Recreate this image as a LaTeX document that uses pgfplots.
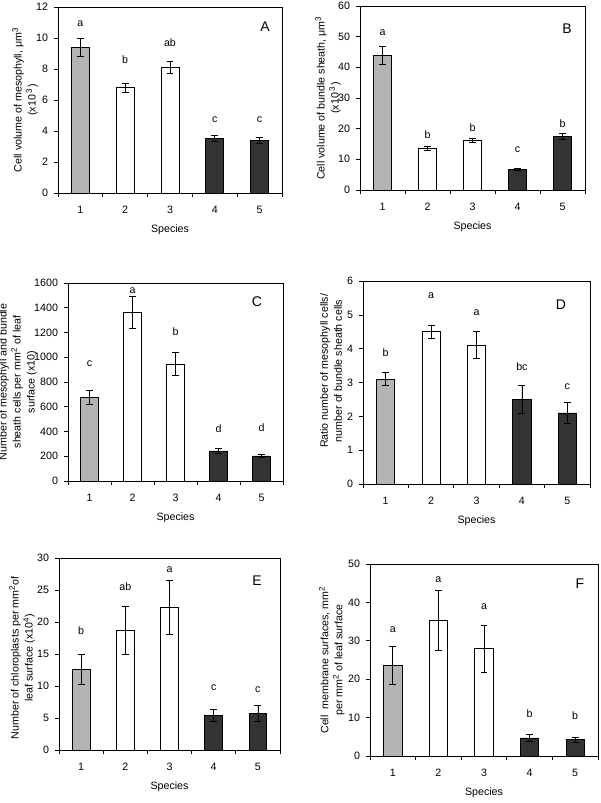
\documentclass[border=0pt]{standalone}
\usepackage{fontspec}
\setmainfont{Liberation Sans}
\usepackage{pgfplots}
\pgfplotsset{compat=1.18}
\definecolor{bargray}{HTML}{B4B4B4}
\definecolor{bardark}{HTML}{333333}
\tikzset{
 lt/.style={font=\fontsize{8}{9.6}\selectfont},
 pl/.style={font=\fontsize{10.5}{12}\selectfont},
}
\pgfplotsset{
 panel/.style={
  scale only axis, anchor=south west,
  xmin=0.5, xmax=5.5, ymin=0,
  xtick={0.5,1.5,2.5,3.5,4.5,5.5}, xticklabels={},
  extra x ticks={1,2,3,4,5}, extra x tick labels={1,2,3,4,5},
  extra x tick style={major tick length=0pt, xticklabel style={anchor=center, yshift=-12.75pt}},
  tick align=outside, tick pos=left, major tick length=3pt,
  tick style={black, line width=0.5pt},
  axis line style={black, line width=0.6pt},
  ybar, bar width=0.4, bar shift=0pt,
  font=\fontsize{8}{10.5}\selectfont,
  ticklabel style={font=\fontsize{8}{9.6}\selectfont},
  /pgf/number format/assume math mode=true,
  /pgf/number format/1000 sep={},
  yticklabel style={xshift=-1pt},
  xlabel={Species},
  xlabel style={at={(axis description cs:0.5,0)}, anchor=center, yshift=-27.75pt, font=\fontsize{8}{10.5}\selectfont},
  ylabel style={align=center, anchor=center, font=\fontsize{8}{10.5}\selectfont},
  every axis plot/.append style={error bars/y dir=both, error bars/y explicit,
    error bars/error bar style={black, line width=0.6pt},
    error bars/error mark options={rotate=90, mark size=2.6pt, black, line width=0.6pt}},
 },
 g/.style={fill=bargray, draw=black, line width=0.6pt},
 w/.style={fill=white, draw=black, line width=0.6pt},
 d/.style={fill=bardark, draw=black, line width=0.6pt},
}
\begin{document}
\begin{tikzpicture}
\useasboundingbox (0,0) rectangle (450pt,602.25pt);
% Panel A
\begin{axis}[panel, at={(43.5pt,457.5pt)}, width=168pt, height=139.5pt,
  ymax=12, ytick={0,2,...,12},
  ylabel={Cell volume of mesophyll, μm\textsuperscript{3}\\(x10\,\textsuperscript{3})},
  ylabel style={at={(axis description cs:-0.147,0.5)}}]
\addplot[g] coordinates {(1,9.4) +- (0,0.6)};
\addplot[w] coordinates {(2,6.8) +- (0,0.3) (3,8.1) +- (0,0.4)};
\addplot[d] coordinates {(4,3.5) +- (0,0.2) (5,3.4) +- (0,0.2)};
\node[lt] at (axis cs:1,10.9) {a};
\node[lt] at (axis cs:2,8.6) {b};
\node[lt] at (axis cs:3,9.7) {ab};
\node[lt] at (axis cs:4,4.75) {c};
\node[lt] at (axis cs:5,4.75) {c};
\node[pl] at (axis description cs:0.924,0.892) {A};
\end{axis}
% Panel B
\begin{axis}[panel, at={(270pt,459.75pt)}, width=168.75pt, height=138pt,
  ymax=60, ytick={0,10,...,60},
  ylabel={Cell volume of bundle sheath, μm\textsuperscript{3}\\(x10\,\textsuperscript{3})},
  ylabel style={at={(axis description cs:-0.142,0.5)}}]
\addplot[g] coordinates {(1,43.9) +- (0,2.8)};
\addplot[w] coordinates {(2,13.6) +- (0,0.7) (3,16.1) +- (0,0.7)};
\addplot[d] coordinates {(4,6.8) +- (0,0.4) (5,17.5) +- (0,1.0)};
\node[lt] at (axis cs:1,51.3) {a};
\node[lt] at (axis cs:2,17.9) {b};
\node[lt] at (axis cs:3,20.4) {b};
\node[lt] at (axis cs:4,13) {c};
\node[lt] at (axis cs:5,21.7) {b};
\node[pl] at (axis description cs:0.92,0.875) {B};
\end{axis}
% Panel C
\begin{axis}[panel, at={(51pt,241.5pt)}, width=161.25pt, height=148.5pt,
  ymax=1600, ytick={0,200,...,1600},
  ylabel={Number of mesophyll and bundle\\sheath cells per mm\textsuperscript{2} of leaf\\surface (x10)},
  ylabel style={at={(axis description cs:-0.233,0.5)}}]
\addplot[g] coordinates {(1,675) +- (0,60)};
\addplot[w] coordinates {(2,1363) +- (0,128) (3,944) +- (0,92)};
\addplot[d] coordinates {(4,243) +- (0,22) (5,202) +- (0,15)};
\node[lt] at (axis cs:1,952) {c};
\node[lt] at (axis cs:2,1541) {a};
\node[lt] at (axis cs:3,1209) {b};
\node[lt] at (axis cs:4,426) {d};
\node[lt] at (axis cs:5,434) {d};
\node[pl] at (axis description cs:0.879,0.904) {C};
\end{axis}
% Panel D
\begin{axis}[panel, at={(272.25pt,239.25pt)}, width=170.25pt, height=152.25pt,
  ymax=6, ytick={0,1,...,6},
  ylabel={Ratio number of mesophyll cells/\\number of bundle sheath cells},
  ylabel style={at={(axis description cs:-0.141,0.557)}}]
\addplot[g] coordinates {(1,3.1) +- (0,0.2)};
\addplot[w] coordinates {(2,4.5) +- (0,0.2) (3,4.1) +- (0,0.4)};
\addplot[d] coordinates {(4,2.5) +- (0,0.4) (5,2.1) +- (0,0.3)};
\node[lt] at (axis cs:1,3.88) {b};
\node[lt] at (axis cs:2,5.56) {a};
\node[lt] at (axis cs:3,5.05) {a};
\node[lt] at (axis cs:4,3.47) {bc};
\node[lt] at (axis cs:5,2.88) {c};
\node[pl] at (axis description cs:0.872,0.882) {D};
\end{axis}
% Panel E
\begin{axis}[panel, at={(44.25pt,39.75pt)}, width=165.75pt, height=144pt,
  ymax=30, ytick={0,5,...,30},
  ylabel={Number of chloroplasts per mm\textsuperscript{2}of\\leaf surface (x10\textsuperscript{4})},
  ylabel style={at={(axis description cs:-0.167,0.48)}}]
\addplot[g] coordinates {(1,12.6) +- (0,2.3)};
\addplot[w] coordinates {(2,18.7) +- (0,3.8) (3,22.3) +- (0,4.2)};
\addplot[d] coordinates {(4,5.4) +- (0,1.0) (5,5.7) +- (0,1.3)};
\node[lt] at (axis cs:1,18.6) {b};
\node[lt] at (axis cs:2,25.5) {ab};
\node[lt] at (axis cs:3,28.1) {a};
\node[lt] at (axis cs:4,9.8) {c};
\node[lt] at (axis cs:5,9.4) {c};
\node[pl] at (axis description cs:0.896,0.88) {E};
\end{axis}
% Panel F
\begin{axis}[panel, at={(277.5pt,35.25pt)}, width=171pt, height=144pt,
  ymax=50, ytick={0,10,...,50},
  ylabel={Cell\ \ membrane surfaces, mm\textsuperscript{2}\\per mm\textsuperscript{2} of leaf surface},
  ylabel style={at={(axis description cs:-0.167,0.5)}}]
\addplot[g] coordinates {(1,23.6) +- (0,4.9)};
\addplot[w] coordinates {(2,35.2) +- (0,7.8) (3,27.9) +- (0,6.2)};
\addplot[d] coordinates {(4,4.7) +- (0,1.0) (5,4.2) +- (0,0.7)};
\node[lt] at (axis cs:1,32.8) {a};
\node[lt] at (axis cs:2,46) {a};
\node[lt] at (axis cs:3,39) {a};
\node[lt] at (axis cs:4,11.1) {b};
\node[lt] at (axis cs:5,10.4) {b};
\node[pl] at (axis description cs:0.921,0.9) {F};
\end{axis}
\end{tikzpicture}
\end{document}
